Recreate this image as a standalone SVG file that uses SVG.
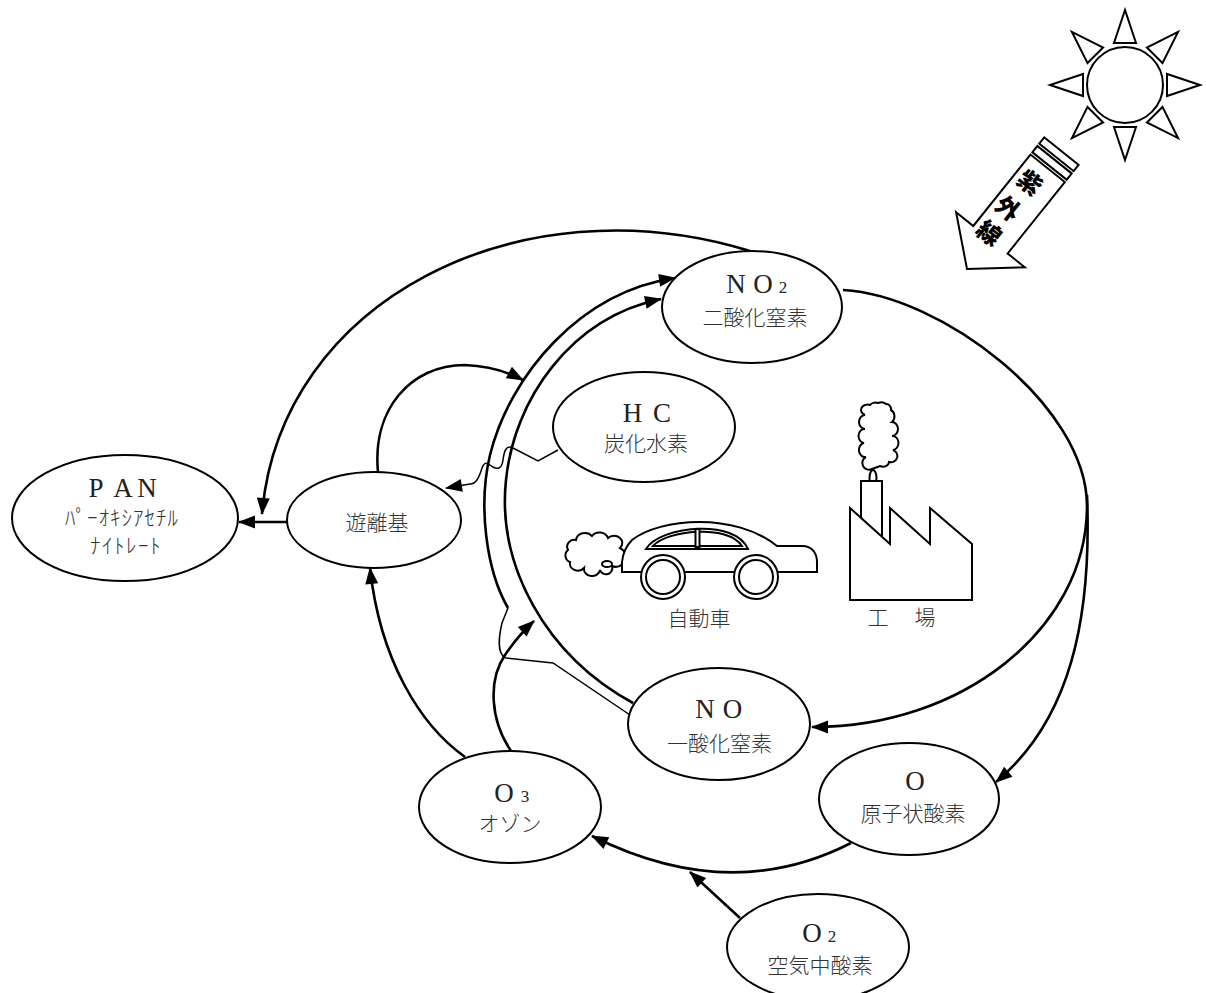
<svg xmlns="http://www.w3.org/2000/svg" width="1206" height="993" viewBox="0 0 1206 993">
<defs>
<style>
.n{fill:#fff;stroke:#000;stroke-width:2}
.d{fill:#fff;stroke:#000;stroke-width:2}
.c{fill:none;stroke:#000;stroke-width:2.6}
.t{fill:none;stroke:#000;stroke-width:1.5}
.lat{font-family:"Liberation Serif",serif;font-size:27px;fill:#222;text-anchor:middle}
.jp{font-family:"Noto Sans CJK JP",sans-serif;font-size:21px;fill:#333;text-anchor:middle;font-weight:300}
.uvt{font-family:"Noto Sans CJK JP",sans-serif;font-size:24px;font-weight:900;fill:#000;text-anchor:middle}
</style>
<marker id="ah" markerUnits="userSpaceOnUse" markerWidth="17" markerHeight="13" refX="16" refY="6.5" orient="auto" viewBox="0 0 17 13" overflow="visible"><path d="M0,0 L17,6.5 L0,13 Z" fill="#000"/></marker>
<polygon id="ray" class="d" points="0,-75 -11,-42 11,-42"/>
</defs>
<rect width="1206" height="993" fill="#fff"/>

<g id="sun">
<circle class="d" cx="1125" cy="85" r="38"/>
<use href="#ray" transform="translate(1125,85) rotate(0)"/>
<use href="#ray" transform="translate(1125,85) rotate(45)"/>
<use href="#ray" transform="translate(1125,85) rotate(90)"/>
<use href="#ray" transform="translate(1125,85) rotate(135)"/>
<use href="#ray" transform="translate(1125,85) rotate(180)"/>
<use href="#ray" transform="translate(1125,85) rotate(225)"/>
<use href="#ray" transform="translate(1125,85) rotate(270)"/>
<use href="#ray" transform="translate(1125,85) rotate(315)"/>
</g>

<g id="uv" transform="translate(967,269) rotate(38.7)">
<polygon class="d" points="0,0 44,-37.5 22,-37.5 22,-129 -22,-129 -22,-37.5 -44,-37.5"/>
<rect class="d" x="-22" y="-140" width="44" height="8"/>
<rect class="d" x="-22" y="-151" width="44" height="8"/>
<text class="uvt" x="-5" y="-98">紫</text>
<text class="uvt" x="-6" y="-64">外</text>
<text class="uvt" x="-5" y="-33">線</text>
</g>

<g id="car">
<path class="d" d="M620 548 a8 7 0 0 0 -12 -10 a9 8 0 0 0 -16 -2 a9 8 0 0 0 -16 4 a7 7 0 0 0 -8 10 a7 7 0 0 0 2 12 a8 7 0 0 0 14 6 a8 7 0 0 0 16 2 a6 6 0 0 0 12 -4 a7 7 0 0 0 8 -18 z"/>
<ellipse class="d" cx="607" cy="564" rx="5" ry="3"/>
<path class="d" d="M622 572 L622 562 C623 552 626 546 632 540 C660 518 735 512 777 546 L802 546 C812 546 817 553 817 562 L817 572 Z"/>
<path class="d" d="M646 549 C660 526 735 518 748 549 Z"/>
<path class="d" d="M653 546 C667 530 728 524 742 546 Z"/>
<rect class="d" x="695.5" y="529" width="4" height="18"/>
<circle class="d" cx="663" cy="577" r="22"/>
<circle class="d" cx="663" cy="577" r="17"/>
<circle class="d" cx="756" cy="577" r="22"/>
<circle class="d" cx="756" cy="577" r="17"/>
<text class="jp" x="699" y="626" font-size="22">自動車</text>
</g>

<g id="factory">
<path class="d" d="M872 469 a6 6 0 0 1 -6 -12 a6 7 0 0 1 -2 -14 a6 7 0 0 1 1 -14 a6 7 0 0 1 0 -14 a6 5 0 0 1 5 -10 a6 4 0 0 1 8 -2 a6 4 0 0 1 8 1 a5 5 0 0 1 5 6 a6 7 0 0 1 1 12 a6 7 0 0 1 0 14 a6 7 0 0 1 1 14 a6 6 0 0 1 -4 12 a6 5 0 0 1 -9 4 z"/>
<ellipse class="d" cx="873" cy="478" rx="3.5" ry="8"/>
<path class="d" d="M861 518 L861 481 L882 481 L882 537"/>
<path class="d" d="M850 600 L850 508 L890 544 L890 508 L930 544 L930 508 L972 544 L972 600 Z"/>
<text class="jp" y="625" font-size="22"><tspan x="878">工</tspan><tspan x="925">場</tspan></text>
</g>

<g id="node-pan">
<ellipse class="n" cx="125" cy="518" rx="113" ry="63"/>
<text class="lat" y="497" font-size="24"><tspan x="96">P</tspan><tspan x="123">A</tspan><tspan x="147">N</tspan></text>
<text class="jp" x="122" y="525" font-size="22" letter-spacing="1">ﾊﾟｰｵｷｼｱｾﾁﾙ</text>
<text class="jp" x="126" y="553" font-size="22" letter-spacing="1.5">ﾅｲﾄﾚｰﾄ</text>
</g>

<g id="node-radical">
<ellipse class="n" cx="374" cy="520" rx="87" ry="48"/>
<text class="jp" x="377" y="530" font-size="23">遊離基</text>
</g>

<g id="node-no2">
<ellipse class="n" cx="752" cy="307" rx="90" ry="56"/>
<text class="lat" y="293"><tspan x="736">N</tspan><tspan x="763">O</tspan><tspan x="783" font-size="17">2</tspan></text>
<text class="jp" x="755" y="325">二酸化窒素</text>
</g>

<g id="node-hc">
<ellipse class="n" cx="644" cy="427" rx="91" ry="55"/>
<text class="lat" y="422"><tspan x="632.5">H</tspan><tspan x="662">C</tspan></text>
<text class="jp" x="646" y="451">炭化水素</text>
</g>

<g id="node-no">
<ellipse class="n" cx="719" cy="724" rx="91" ry="56"/>
<text class="lat" y="718"><tspan x="705">N</tspan><tspan x="732.5">O</tspan></text>
<text class="jp" x="719.5" y="751">一酸化窒素</text>
</g>

<g id="node-o3">
<ellipse class="n" cx="510" cy="807" rx="91" ry="56"/>
<text class="lat" y="802"><tspan x="504">O</tspan><tspan x="525" font-size="17">3</tspan></text>
<text class="jp" x="510" y="831">オゾン</text>
</g>

<g id="node-o">
<ellipse class="n" cx="909" cy="799" rx="90" ry="56"/>
<text class="lat" x="915" y="790">O</text>
<text class="jp" x="913" y="821">原子状酸素</text>
</g>

<g id="node-o2">
<ellipse class="n" cx="818" cy="947" rx="91" ry="53"/>
<text class="lat" y="942"><tspan x="812">O</tspan><tspan x="832" font-size="17">2</tspan></text>
<text class="jp" x="820" y="973">空気中酸素</text>
</g>

<g id="connectors">
<path class="c" marker-end="url(#ah)" d="M750 251 C520 180 280 300 262 514"/>
<path class="c" marker-end="url(#ah)" d="M287 522 L239 522"/>
<path class="c" marker-end="url(#ah)" d="M378 472 C372 410 410 365 465 365 C490 366 508 372 523 380"/>
<path class="c" marker-end="url(#ah)" d="M508 608 C486 570 478 505 490 455 C510 375 580 292 675 278"/>
<path class="t" d="M508 608 L502 623 C498 640 498 655 506 658 L553 663 L630 715"/>
<path class="c" marker-end="url(#ah)" d="M633 703 C545 655 497 565 506 480 C514 400 570 318 661 299"/>
<path class="c" marker-end="url(#ah)" d="M843 290 C940 295 1087 405 1087 506 C1087 630 960 728 812 727"/>
<path class="c" marker-end="url(#ah)" d="M1087 495 C1092 620 1070 720 996 782"/>
<path class="t" marker-end="url(#ah)" d="M558 450 L538 461 L513 448 C506 444 504 452 503 460 C502 468 498 470 493 467 C488 464 485 460 482 468 C479 478 476 484 470 484 L446 488"/>
<path class="c" marker-end="url(#ah)" d="M465 757 C420 725 380 660 370 568"/>
<path class="c" marker-end="url(#ah)" d="M511 751 C490 720 488 680 505 655 C513 643 522 632 534 621"/>
<path class="c" marker-end="url(#ah)" d="M851 843 Q730 905 592 836"/>
<path class="c" marker-end="url(#ah)" d="M740 918 L690 872"/>
</g>
</svg>
